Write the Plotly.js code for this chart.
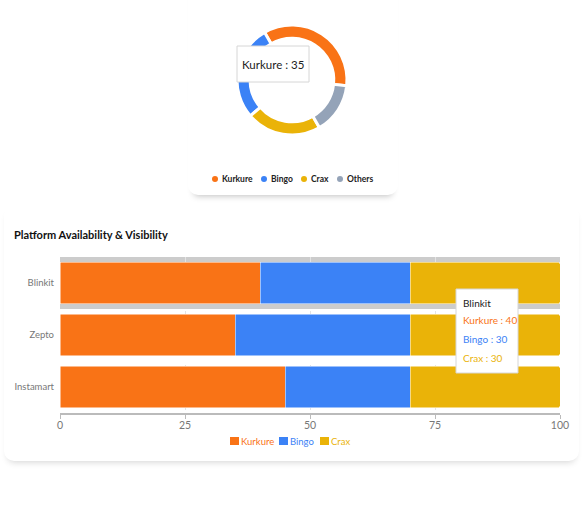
<!DOCTYPE html>
<html>
<head>
<meta charset="utf-8">
<script src="https://cdn.plot.ly/plotly-3.0.1.min.js"></script>
<style>
  html, body { margin: 0; padding: 0; background: #ffffff; }
  #wrap { position: relative; width: 585px; height: 505px; overflow: hidden; }
  .card { position: absolute; background: #fff; border-radius: 10px; }
  #chart { position: absolute; left: 0; top: 0; width: 585px; height: 505px; }
</style>
</head>
<body>
<div id="wrap">
  <div class="card" style="left:188px; top:-20px; width:210px; height:215px; box-shadow: 0 7px 6px -6px rgba(0,0,0,0.25);"></div>
  <div class="card" style="left:4px; top:205px; width:575px; height:256px; box-shadow: 0 5px 7px -4px rgba(0,0,0,0.18);"></div>
  <div id="chart"></div>
</div>
<script>
// ---- Data ----
const shareLabels = ['Kurkure', 'Bingo', 'Crax', 'Others'];
const shareValues = [35, 28, 22, 15];
const shareColors = ['#F97316', '#3B82F6', '#EAB308', '#94A3B8'];

const platforms = ['Blinkit', 'Zepto', 'Instamart'];
const brands = ['Kurkure', 'Bingo', 'Crax'];
const kurkureVals = [40, 35, 45];
const bingoVals = [30, 35, 25];
const craxVals = [30, 30, 30];
const brandColors = ['#F97316', '#3B82F6', '#EAB308'];
const xTicks = [0, 25, 50, 75, 100];

const chartTitle = 'Platform Availability & Visibility';
const FONT = 'Lato, Open Sans, sans-serif';

// pixel -> paper helpers
const W = 585, H = 505;
const px = x => x / W;
const py = y => 1 - y / H;

const seriesVals = [kurkureVals, bingoVals, craxVals];

const traces = [];
traces.push({
  type: 'pie',
  labels: shareLabels,
  values: shareValues,
  marker: { colors: shareColors, line: { color: '#ffffff', width: 3 } },
  hole: 0.76,
  sort: false,
  direction: 'counterclockwise',
  rotation: -30,
  textinfo: 'none',
  hoverinfo: 'skip',
  showlegend: false,
  domain: { x: [px(237), px(347)], y: [py(135), py(25)] }
});

brands.forEach((b, i) => {
  traces.push({
    type: 'bar',
    orientation: 'h',
    name: b,
    y: platforms,
    x: seriesVals[i],
    marker: { color: brandColors[i], line: { color: '#ffffff', width: 0.5 } },
    hoverinfo: 'skip',
    showlegend: false,
    xaxis: 'x', yaxis: 'y'
  });
});

const shapes = [];
const annotations = [];

// hover band behind Blinkit
shapes.push({ type: 'rect', xref: 'x', yref: 'y', x0: 0, x1: 100, y0: -0.5, y1: 0.5,
  fillcolor: '#cccccc', line: { width: 0 }, layer: 'below' });

// donut legend (dots + labels)
const dotX = [215, 264, 304, 340];
const txtX = [220, 269, 309, 345];
shareLabels.forEach((l, i) => {
  shapes.push({ type: 'circle', xref: 'paper', yref: 'paper',
    x0: px(dotX[i] - 3), x1: px(dotX[i] + 3), y0: py(182), y1: py(176),
    fillcolor: shareColors[i], line: { width: 0 } });
  annotations.push({ xref: 'paper', yref: 'paper', x: px(txtX[i]), y: py(179),
    xanchor: 'left', yanchor: 'middle', showarrow: false, text: '<b>' + l + '</b>',
    font: { family: FONT, size: 8.5, color: '#222' } });
});

// bar legend (squares + labels)
const sqX = [230, 279, 320];
const lgTxtX = [239, 288, 329];
brands.forEach((b, i) => {
  shapes.push({ type: 'rect', xref: 'paper', yref: 'paper',
    x0: px(sqX[i]), x1: px(sqX[i] + 9), y0: py(445), y1: py(437),
    fillcolor: brandColors[i], line: { width: 0 } });
  annotations.push({ xref: 'paper', yref: 'paper', x: px(lgTxtX[i]), y: py(441),
    xanchor: 'left', yanchor: 'middle', showarrow: false, text: b,
    font: { family: FONT, size: 9.5, color: brandColors[i] } });
});

// donut tooltip
shapes.push({ type: 'rect', xref: 'paper', yref: 'paper', x0: px(237), x1: px(309), y0: py(82), y1: py(46),
  fillcolor: '#ffffff', line: { color: '#d6d6d6', width: 1 } });
annotations.push({ xref: 'paper', yref: 'paper', x: px(273), y: py(64), xanchor: 'center', yanchor: 'middle',
  showarrow: false, text: shareLabels[0] + ' : ' + shareValues[0], font: { family: FONT, size: 11.5, color: '#222' } });

// bar tooltip
shapes.push({ type: 'rect', xref: 'paper', yref: 'paper', x0: px(456), x1: px(518), y0: py(373), y1: py(289),
  fillcolor: '#ffffff', line: { color: '#d6d6d6', width: 1 } });
annotations.push({ xref: 'paper', yref: 'paper', x: px(461), y: py(303), xanchor: 'left', yanchor: 'middle',
  showarrow: false, text: platforms[0], font: { family: FONT, size: 10, color: '#222' } });
const tipY = [320, 339, 358];
brands.forEach((b, i) => {
  annotations.push({ xref: 'paper', yref: 'paper', x: px(461), y: py(tipY[i]), xanchor: 'left', yanchor: 'middle',
    showarrow: false, text: b + ' : ' + seriesVals[i][0], font: { family: FONT, size: 10, color: brandColors[i] } });
});

// title
annotations.push({ xref: 'paper', yref: 'paper', x: px(12), y: py(235), xanchor: 'left', yanchor: 'middle',
  showarrow: false, text: '<b>' + chartTitle + '</b>', font: { family: FONT, size: 11, color: '#111' } });

const layout = {
  width: W, height: H,
  margin: { l: 0, r: 0, t: 0, b: 0 },
  paper_bgcolor: 'rgba(0,0,0,0)',
  plot_bgcolor: 'rgba(0,0,0,0)',
  font: { family: FONT, color: '#777777' },
  barmode: 'stack',
  bargap: 0.2,
  barcornerradius: 2,
  xaxis: {
    domain: [px(60), px(560)],
    range: [0, 100],
    tickvals: xTicks,
    ticktext: xTicks.map(String),
    showgrid: true, gridcolor: '#e3e3e3', griddash: 'dash', gridwidth: 1,
    zeroline: false,
    showline: true, linecolor: '#bbbbbb', linewidth: 1.5,
    ticks: 'outside', ticklen: 4, tickcolor: '#bbbbbb', ticklabelstandoff: -2,
    tickfont: { family: FONT, size: 10.5, color: '#777777' },
    fixedrange: true
  },
  yaxis: {
    domain: [py(413), py(257)],
    categoryorder: 'array', categoryarray: platforms,
    autorange: 'reversed',
    showgrid: false, zeroline: false, showline: false,
    ticks: '', ticklabelstandoff: 5,
    tickfont: { family: FONT, size: 9.5, color: '#777777' },
    fixedrange: true
  },
  showlegend: false,
  shapes: shapes,
  annotations: annotations
};

Plotly.newPlot('chart', traces, layout, { displayModeBar: false, staticPlot: true });
</script>
</body>
</html>
